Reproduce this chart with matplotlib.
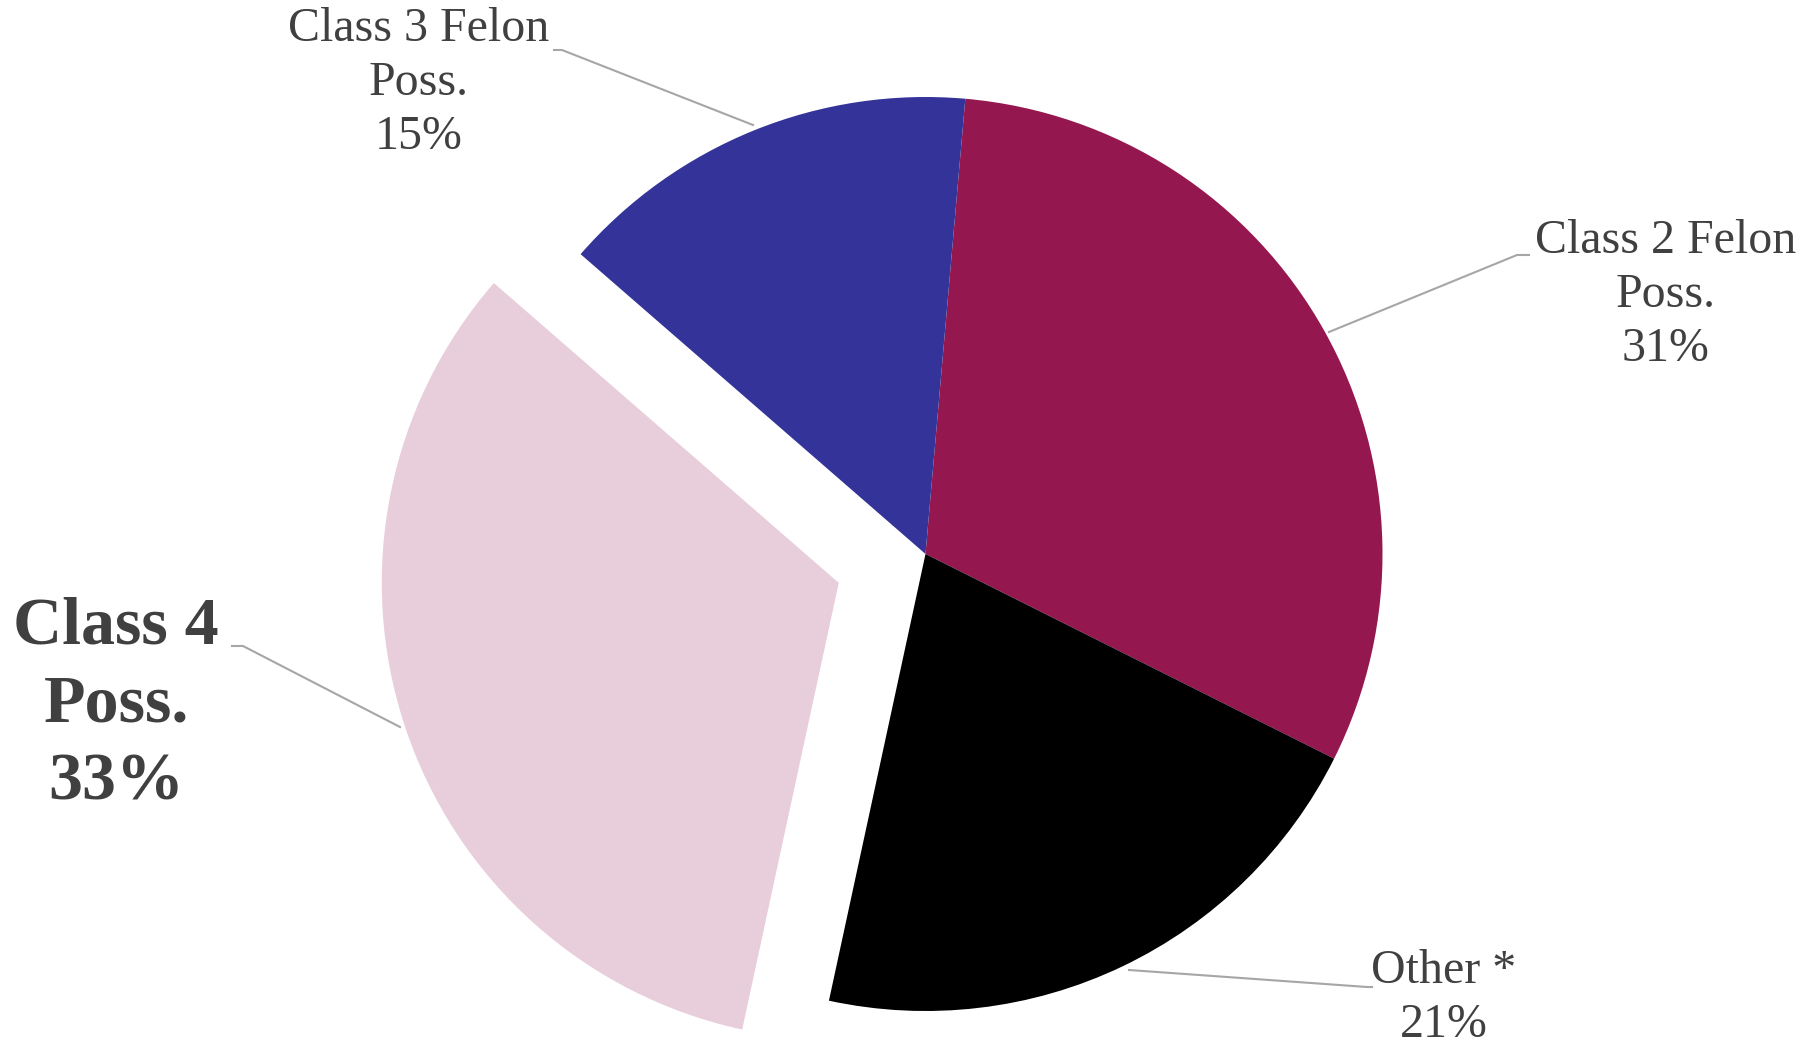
import numpy as np
import matplotlib.pyplot as plt

# slice data, clockwise from just right of 12 o'clock
labels = ['Class 2 Felon\nPoss.', 'Other *', 'Class 4\nPoss.', 'Class 3 Felon\nPoss.']
shares = [31, 21, 33, 15]
colors = ['#95174F', '#000000', '#E8CEDB', '#333399']
explode = [0, 0, 0.20, 0]

W, H = 1816, 1045
R = 457.0           # pie radius in pixels
CX, CY = 925.5, 554.0  # pie centre in pixels (from top-left)


def to_data(px, py):
    return (px - CX) / R, (CY - py) / R


fig = plt.figure(figsize=(W / 100, H / 100), dpi=100)
ax = fig.add_axes([0, 0, 1, 1])
ax.set_aspect('equal')
ax.axis('off')

ax.pie(shares, colors=colors, explode=explode, startangle=85,
       counterclock=False, radius=1, center=(0, 0), frame=False,
       wedgeprops=dict(linewidth=0))
ax.set_xlim(-CX / R, (W - CX) / R)
ax.set_ylim(-(H - CY) / R, CY / R)

# label text positions (pixels) and leader lines
text_pos = [(1666, 295), (1444, 998), (116, 705), (419, 83)]
leaders = [
    [(1329, 332), (1517, 255), (1529, 255)],
    [(1129, 970), (1367, 987), (1372, 987)],
    [(400, 727), (243, 646), (232, 646)],
    [(753, 125), (562, 50), (554, 50)],
]

for lab, val, (px, py), pts in zip(labels, shares, text_pos, leaders):
    x, y = to_data(px, py)
    bold = lab.startswith('Class 4')
    ax.text(x, y, f'{lab}\n{val}%', ha='center', va='center',
            fontsize=49 if bold else 34.5,
            fontweight='bold' if bold else 'normal',
            family='Liberation Serif', color='#404040',
            linespacing=1.36 if bold else 1.28)
    xs, ys = zip(*[to_data(a, b) for a, b in pts])
    ax.plot(xs, ys, color='#A6A6A6', lw=1.5)

fig.savefig('out.png', dpi=100)
